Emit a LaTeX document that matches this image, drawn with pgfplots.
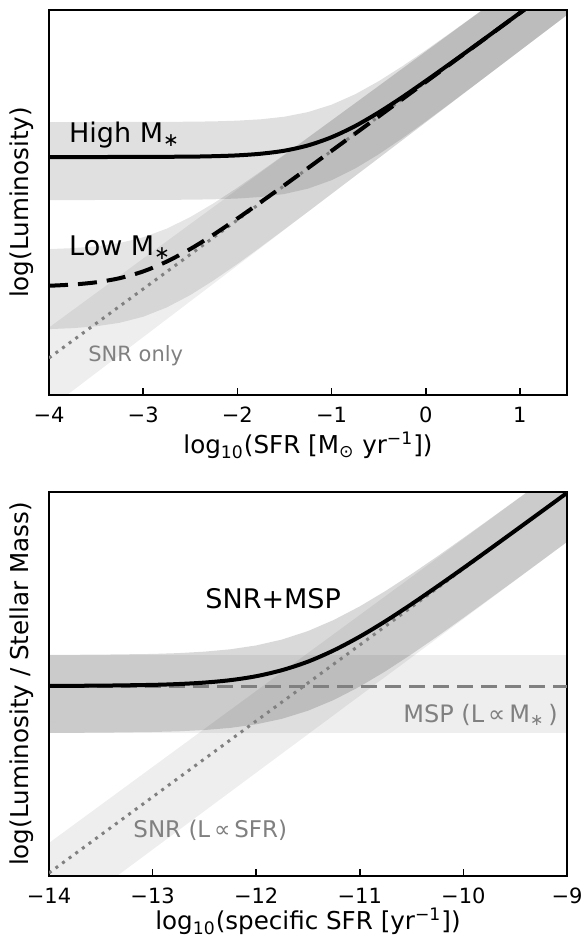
\documentclass[border=0pt]{standalone}
\usepackage{fontspec}
\setmainfont{DejaVu Sans}
\usepackage{pgfplots}
\pgfplotsset{compat=1.18}
\definecolor{snrgray}{HTML}{808080}

\pgfplotsset{
  lumstyle/.style={
    scale only axis, width=259pt,
    ymin=0, yticklabels={},
    tick align=inside, xtick pos=left, ytick pos=left,
    major tick length=3.5pt,
    every tick/.style={black, line width=0.8pt},
    ytick style={white, line width=0.8pt},
    axis line style={line width=0.65pt},
    xticklabel style={font=\fontsize{10.5}{12}\selectfont, inner sep=0pt, anchor=north, yshift=-5.75pt},
    every axis x label/.style={at={(axis description cs:0.5,0)}, anchor=north, inner sep=0pt, font=\fontsize{12.3}{14}\selectfont},
    every axis y label/.style={at={(axis description cs:-0.0521,0.5)}, anchor=center, rotate=90, inner sep=0pt, font=\fontsize{12.3}{14}\selectfont},
  },
  band/.style={draw=none, fill=black, fill opacity=#1},
}

\begin{document}
\begin{tikzpicture}
\useasboundingbox (-24.5pt,-271pt) rectangle (268.5pt,197.5pt);

% top panel: luminosity vs SFR
\begin{axis}[lumstyle, at={(0,0)}, anchor=south west, height=192.5pt,
  xmin=-4, xmax=1.5, ymax=7.0,
  xtick={-4,-3,-2,-1,0,1}, xticklabels={−4,−3,−2,−1,0,1}, ytick={4.45},
  xlabel={log\textsubscript{10}(SFR [M\textsubscript{⊙} yr\textsuperscript{−1}])},
  xlabel style={yshift=-18.5pt},
  ylabel={log(Luminosity)}]
% SNR only band
\addplot[band=0.065] coordinates {(-4,1.227) (1.5,8.127) (1.5,6.909) (-4,-0.249)};
% high mass band
\addplot[band=0.12] coordinates {
  (-4,4.963) (-3,4.964) (-2.5,4.969) (-2.25,4.975) (-2,4.988) (-1.75,5.013) (-1.5,5.060)
  (-1.25,5.144) (-1,5.278) (-0.75,5.467) (-0.5,5.705) (-0.25,5.976) (0,6.267) (0.25,6.570)
  (0.5,6.877) (0.75,7.189) (1,7.5) (1.5,8.127)
  (1.5,6.909) (1.25,6.585) (1,6.26) (0.75,5.935) (0.5,5.612) (0.25,5.29) (0,4.974)
  (-0.25,4.666) (-0.5,4.376) (-0.75,4.117) (-1,3.905) (-1.25,3.752) (-1.5,3.655)
  (-1.75,3.601) (-2,3.572) (-2.25,3.558) (-2.5,3.551) (-3,3.546) (-4,3.545)};
% low mass band
\addplot[band=0.10] coordinates {
  (-4,2.653) (-3.75,2.670) (-3.5,2.702) (-3.25,2.763) (-3,2.867) (-2.75,3.024) (-2.5,3.235)
  (-2.25,3.488) (-2,3.769) (-1.75,4.067) (-1.5,4.371) (-1.25,4.681) (-1,4.993) (-0.5,5.618)
  (0,6.245) (0.5,6.872) (1,7.5) (1.5,8.127)
  (1.5,6.909) (1,6.259) (0.5,5.608) (0,4.957) (-0.5,4.306) (-1,3.6575) (-1.25,3.333)
  (-1.5,3.012) (-1.75,2.694) (-2,2.382) (-2.25,2.087) (-2.5,1.817) (-2.75,1.592)
  (-3,1.423) (-3.25,1.313) (-3.5,1.249) (-3.75,1.215) (-4,1.198)};
% SNR only
\addplot[snrgray, line width=1.5pt, dash pattern=on 1.5pt off 2.6pt] coordinates {(-4,0.673) (1.5,7.573)};
% low mass total
\addplot[black, line width=2pt, smooth, dash pattern=on 9.5pt off 5pt] coordinates {
  (-4,1.986) (-3.75,2.008) (-3.5,2.049) (-3.25,2.124) (-3,2.247) (-2.75,2.426) (-2.5,2.654)
  (-2.25,2.919) (-2,3.208) (-1.75,3.509) (-1.5,3.815) (-1.25,4.126) (-1,4.439) (-0.5,5.064)
  (0,5.691) (0.5,6.318) (1,6.946) (1.5,7.573)};
% high mass total
\addplot[black, line width=2pt, smooth] coordinates {
  (-4,4.327) (-3.5,4.327) (-3,4.329) (-2.5,4.334) (-2.25,4.342) (-2,4.357) (-1.75,4.387)
  (-1.5,4.442) (-1.25,4.538) (-1,4.687) (-0.75,4.889) (-0.5,5.137) (-0.25,5.414) (0,5.710)
  (0.25,6.014) (0.5,6.322) (0.75,6.634) (1,6.947) (1.25,7.26) (1.5,7.573)};
\node[anchor=base west, inner sep=0pt, font=\fontsize{13.5}{16}\selectfont] at (axis cs:-3.79,4.6) {High M\textsubscript{∗}};
\node[anchor=base west, inner sep=0pt, font=\fontsize{13.5}{16}\selectfont] at (axis cs:-3.79,2.545) {Low M\textsubscript{∗}};
\node[anchor=base west, inner sep=0pt, text=snrgray, font=\fontsize{10.5}{12}\selectfont] at (axis cs:-3.586,0.618) {SNR only};
\end{axis}

% bottom panel: luminosity per stellar mass vs sSFR
\begin{axis}[lumstyle, at={(0,-240.5pt)}, anchor=south west, height=192pt,
  xmin=-14, xmax=-9, ymax=5.053,
  xtick={-14,-13,-12,-11,-10,-9}, xticklabels={−14,−13,−12,−11,−10,−9}, ytick={2.026},
  xlabel={log\textsubscript{10}(specific SFR [yr\textsuperscript{−1}])},
  xlabel style={yshift=-16pt},
  ylabel={log(Luminosity / Stellar Mass)}]
% MSP band
\addplot[band=0.065] coordinates {(-14,2.908) (-9,2.908) (-9,1.882) (-14,1.882)};
% SNR band
\addplot[band=0.065] coordinates {(-14,0.435) (-9,5.435) (-9,4.395) (-14,-0.664)};
% SNR+MSP band
\addplot[band=0.15] coordinates {
  (-14,2.909) (-13.5,2.913) (-13,2.922) (-12.75,2.933) (-12.5,2.952) (-12.25,2.983)
  (-12,3.034) (-11.75,3.112) (-11.5,3.223) (-11.25,3.370) (-11,3.548) (-10.75,3.752)
  (-10.5,3.974) (-10.25,4.207) (-10,4.448) (-9.75,4.692) (-9.5,4.939) (-9.25,5.187) (-9,5.436)
  (-9,4.396) (-9.25,4.144) (-9.5,3.893) (-9.75,3.644) (-10,3.397) (-10.25,3.154)
  (-10.5,2.919) (-10.75,2.696) (-11,2.493) (-11.25,2.317) (-11.5,2.175) (-11.75,2.069)
  (-12,1.996) (-12.25,1.949) (-12.5,1.921) (-12.75,1.904) (-13,1.895) (-13.5,1.886) (-14,1.883)};
\addplot[snrgray, line width=1.5pt, dash pattern=on 1.5pt off 2.6pt] coordinates {(-14,0.04) (-9,5.04)};
\addplot[snrgray, line width=1.5pt, dash pattern=on 8pt off 4pt] coordinates {(-14,2.5) (-9,2.5)};
\addplot[black, line width=2pt, smooth] coordinates {
  (-14,2.5015) (-13.5,2.505) (-13,2.515) (-12.75,2.526) (-12.5,2.545) (-12.25,2.577)
  (-12,2.629) (-11.75,2.709) (-11.5,2.821) (-11.25,2.970) (-11,3.150) (-10.75,3.355)
  (-10.5,3.578) (-10.25,3.812) (-10,4.052) (-9.75,4.297) (-9.5,4.544) (-9.25,4.792) (-9,5.041)};
\node[anchor=base west, inner sep=0pt, font=\fontsize{13.5}{16}\selectfont] at (axis cs:-12.494,3.526) {SNR+MSP};
\node[anchor=base west, inner sep=0pt, text=snrgray, font=\fontsize{12}{14}\selectfont] at (axis cs:-10.583,2.026) {MSP (L\,∝\,M\textsubscript{∗}\,)};
\node[anchor=base west, inner sep=0pt, text=snrgray, font=\fontsize{11.5}{14}\selectfont] at (axis cs:-13.189,0.513) {SNR (L\,∝\,SFR)};
\end{axis}
\end{tikzpicture}
\end{document}
